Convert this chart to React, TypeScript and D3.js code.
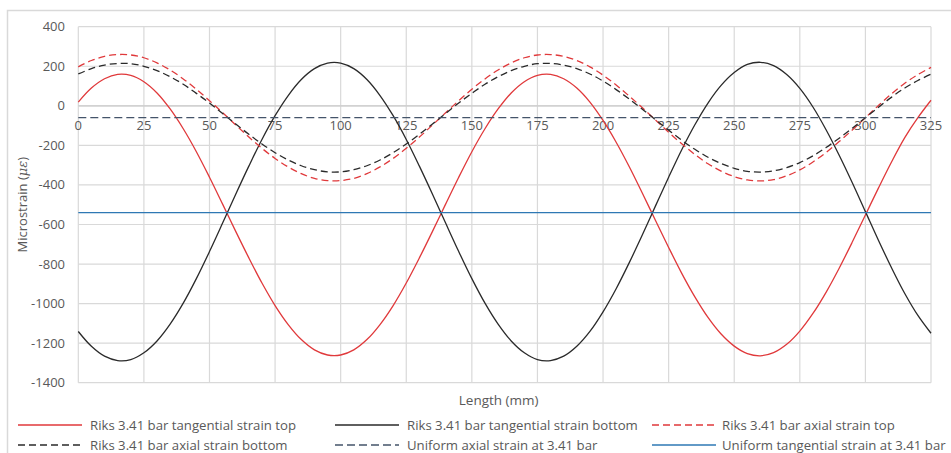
import React from "react";
import * as d3 from "d3";

// Position along the bar (mm)
const lengthMm = [
  0, 5, 10, 15, 20, 25, 30, 35, 40, 45, 50, 55, 60, 65, 70, 75, 80, 85, 90, 95,
  100, 105, 110, 115, 120, 125, 130, 135, 140, 145, 150, 155, 160, 165, 170, 175,
  180, 185, 190, 195, 200, 205, 210, 215, 220, 225, 230, 235, 240, 245, 250, 255,
  260, 265, 270, 275, 280, 285, 290, 295, 300, 305, 310, 315, 320, 325,
];

// Riks 3.41 bar tangential strain top (microstrain)
const tangentialTop = [
  19, 90, 137, 159, 154, 122, 65, -16, -116, -232, -361, -497, -635, -769, -896,
  -1010, -1106, -1182, -1234, -1260, -1260, -1234, -1182, -1106, -1010, -896,
  -769, -635, -497, -361, -232, -116, -16, 65, 122, 154, 159, 137, 90, 19, -74,
  -184, -308, -442, -580, -716, -847, -966, -1070, -1154, -1215, -1253, -1264,
  -1248, -1206, -1139, -1050, -943, -821, -689, -552, -415, -283, -161, -60, 28,
];

// Riks 3.41 bar tangential strain bottom (microstrain)
const tangentialBottom = [
  -1141, -1216, -1266, -1288, -1283, -1249, -1189, -1104, -998, -874, -737, -593,
  -447, -305, -170, -50, 52, 133, 188, 216, 216, 188, 133, 52, -50, -170, -305,
  -447, -593, -737, -874, -998, -1104, -1189, -1249, -1283, -1288, -1266, -1216,
  -1141, -1042, -925, -793, -652, -506, -361, -222, -96, 14, 103, 168, 209, 220,
  203, 158, 88, -6, -121, -250, -389, -535, -681, -820, -949, -1060, -1150,
];

// Riks 3.41 bar axial strain top (microstrain)
const axialTop = [
  197, 229, 250, 259, 257, 243, 217, 181, 136, 84, 26, -35, -97, -158, -215, -266,
  -309, -343, -367, -378, -378, -367, -343, -309, -266, -215, -158, -97, -35, 26,
  84, 136, 181, 217, 243, 257, 259, 250, 229, 197, 155, 105, 49, -10, -72, -134,
  -192, -246, -293, -330, -358, -375, -380, -373, -354, -324, -284, -236, -181,
  -122, -60, 2, 61, 114, 158, 194,
];

// Riks 3.41 bar axial strain bottom (microstrain)
const axialBottom = [
  161, 188, 206, 214, 213, 200, 178, 147, 109, 63, 14, -39, -92, -144, -193, -237,
  -274, -303, -323, -334, -334, -323, -303, -274, -237, -193, -144, -92, -39, 14,
  63, 109, 147, 178, 200, 213, 214, 206, 188, 161, 125, 82, 34, -17, -71, -123,
  -174, -220, -260, -292, -316, -331, -335, -329, -312, -287, -253, -211, -164,
  -113, -60, -7, 44, 90, 128, 160,
];

// Uniform (analytical) strains at 3.41 bar
const uniformAxial = -60;
const uniformTangential = -540;

const xTicks = [0, 25, 50, 75, 100, 125, 150, 175, 200, 225, 250, 275, 300, 325];
const yTicks = [400, 200, 0, -200, -400, -600, -800, -1000, -1200, -1400];

const W = 951;
const H = 453;
const plot = { left: 78.3, right: 931, top: 26.7, bottom: 382.7 };

const FONT = "'Open Sans', 'Liberation Sans', sans-serif";
const TEXT = "#595959";
const GRID = "#d9d9d9";

type Series = {
  label: string;
  color: string;
  dash?: string;
  values: number[] | null;
  constant?: number;
};

const series: Series[] = [
  { label: "Riks 3.41 bar tangential strain top", color: "#e0393b", values: tangentialTop },
  { label: "Riks 3.41 bar tangential strain bottom", color: "#2a2a2a", values: tangentialBottom },
  { label: "Riks 3.41 bar axial strain top", color: "#e0393b", dash: "7,4", values: axialTop },
  { label: "Riks 3.41 bar axial strain bottom", color: "#2a2a2a", dash: "7,4", values: axialBottom },
  { label: "Uniform axial strain at 3.41 bar", color: "#44546a", dash: "8,4", values: null, constant: uniformAxial },
  { label: "Uniform tangential strain at 3.41 bar", color: "#2e78b4", values: null, constant: uniformTangential },
];

// legend grid: three columns, two rows
const legendCols = [
  { lineX0: 18, lineX1: 82, textX: 90 },
  { lineX0: 335, lineX1: 399, textX: 407 },
  { lineX0: 652, lineX1: 716, textX: 722 },
];
const legendRows = [425, 445];

export default function App() {
  const x = d3.scaleLinear().domain([0, 325]).range([plot.left, plot.right]);
  const y = d3.scaleLinear().domain([-1400, 400]).range([plot.bottom, plot.top]);

  const line = d3
    .line<[number, number]>()
    .x((d) => x(d[0]))
    .y((d) => y(d[1]))
    .curve(d3.curveCatmullRom.alpha(0.5));

  const pathFor = (s: Series) => {
    const pts: [number, number][] = s.values
      ? lengthMm.map((l, i) => [l, s.values![i]])
      : [
          [0, s.constant!],
          [325, s.constant!],
        ];
    return line(pts) || "";
  };

  return (
    <svg
      width={W}
      height={H}
      style={{ position: "absolute", left: 0, top: 0, background: "#fff" }}
      fontFamily={FONT}
    >
      {/* chart frame */}
      <rect x={7.5} y={10.5} width={W + 10} height={H + 10} fill="none" stroke={GRID} strokeWidth={1.5} />

      {/* gridlines */}
      {yTicks.map((t) => (
        <line key={"gy" + t} x1={plot.left} x2={plot.right} y1={y(t)} y2={y(t)} stroke={GRID} strokeWidth={1.2} />
      ))}
      {xTicks.map((t) => (
        <line key={"gx" + t} x1={x(t)} x2={x(t)} y1={plot.top} y2={plot.bottom} stroke={GRID} strokeWidth={1.2} />
      ))}
      {/* horizontal axis at zero */}
      <line x1={plot.left} x2={plot.right} y1={y(0)} y2={y(0)} stroke="#cccccc" strokeWidth={1.3} />

      {/* y tick labels */}
      {yTicks.map((t) => (
        <text key={"ty" + t} x={65} y={y(t)} dy="0.35em" textAnchor="end" fontSize={13} fill={TEXT}>
          {t}
        </text>
      ))}
      {/* x tick labels, sitting under the zero line */}
      {xTicks.map((t) => (
        <text key={"tx" + t} x={x(t)} y={y(0) + 24.5} textAnchor="middle" fontSize={13} fill={TEXT}>
          {t}
        </text>
      ))}

      {/* series */}
      {series.map((s) => (
        <path
          key={s.label}
          d={pathFor(s)}
          fill="none"
          stroke={s.color}
          strokeWidth={1.3}
          strokeDasharray={s.dash}
        />
      ))}

      {/* axis titles */}
      <text
        transform={`translate(22, ${(plot.top + plot.bottom) / 2}) rotate(-90)`}
        textAnchor="middle"
        dy="0.35em"
        fontSize={13}
        fill={TEXT}
      >
        Microstrain (<tspan fontStyle="italic" fontFamily="'DejaVu Serif', serif">με</tspan>)
      </text>
      <text x={(plot.left + plot.right) / 2 - 6} y={400} dy="0.35em" textAnchor="middle" fontSize={13.5} fill={TEXT}>
        Length (mm)
      </text>

      {/* legend */}
      {series.map((s, i) => {
        const col = legendCols[i % 3];
        const ry = legendRows[Math.floor(i / 3)];
        return (
          <g key={"lg" + s.label}>
            <line
              x1={col.lineX0}
              x2={col.lineX1}
              y1={ry}
              y2={ry}
              stroke={s.color}
              strokeWidth={1.5}
              strokeDasharray={s.dash}
            />
            <text x={col.textX} y={ry} dy="0.35em" fontSize={13.2} fill={TEXT}>
              {s.label}
            </text>
          </g>
        );
      })}
    </svg>
  );
}
